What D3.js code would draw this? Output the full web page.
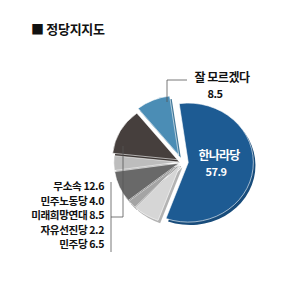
<!DOCTYPE html>
<html>
<head>
<meta charset="utf-8">
<script src="https://cdn.jsdelivr.net/npm/d3@7"></script>
<style>
  body { margin: 0; background: #fff; }
  text { font-family: "Noto Sans CJK KR", sans-serif; font-weight: bold; }
</style>
</head>
<body>
<div id="chartContainer"></div>
<script>
var width = 300;
var height = 285;

// parties in clockwise order starting at the top
var parties = ["한나라당", "민주당", "자유선진당", "미래희망연대", "민주노동당", "무소속", "잘 모르겠다"];
var shares = [57.9, 6.5, 2.2, 8.5, 4.0, 12.6, 8.5];
// legend on the left, read top to bottom
var legendParties = ["무소속", "민주노동당", "미래희망연대", "자유선진당", "민주당"];

var svg = d3.select('#chartContainer')
    .append('svg')
    .attr("width", width)
    .attr("height", height);

svg.append("rect").attr("width", width).attr("height", height).attr("fill", "#fff");

// title
svg.append("text")
    .attr("x", 31)
    .attr("y", 34)
    .attr("font-size", 13)
    .attr("letter-spacing", -0.3)
    .attr("fill", "#111")
    .text("■ 정당지지도");

var data = parties.map(function(p, i) { return {party: p, value: shares[i]}; });

var colors = {
  "한나라당": "#1d5b93",
  "민주당": "#d6d6d6",
  "자유선진당": "#a4a4a4",
  "미래희망연대": "#696969",
  "민주노동당": "#bdbdbd",
  "무소속": "#463f3d",
  "잘 모르겠다": "#4b8db5"
};

// explode distance per slice
var explode = {
  "한나라당": 6,
  "민주당": 3,
  "자유선진당": 3,
  "미래희망연대": 3,
  "민주노동당": 3,
  "무소속": 5,
  "잘 모르겠다": 8
};

var start = -8 * Math.PI / 180;
var pie = d3.pie().sort(null).value(function(d) { return d.value; })
    .startAngle(start).endAngle(start + 2 * Math.PI);
var arcs = pie(data);

var radius = 62;
var arc = d3.arc().innerRadius(0).outerRadius(radius);

var g = svg.append('g').attr("transform", "translate(182,162) scale(1.05,0.96)");

function offset(d) {
  var a = (d.startAngle + d.endAngle) / 2;
  var k = explode[d.data.party];
  return [Math.sin(a) * k, -Math.cos(a) * k];
}

// side faces, a darker copy pushed down a little
g.selectAll("path.side").data(arcs).enter().append("path")
    .attr("class", "side")
    .attr("d", arc)
    .attr("transform", function(d) { var o = offset(d); return "translate(" + (o[0] + 2) + "," + (o[1] + 3) + ")"; })
    .attr("fill", function(d) { return d3.color(colors[d.data.party]).darker(0.5); });

// top faces
g.selectAll("path.face").data(arcs).enter().append("path")
    .attr("class", "face")
    .attr("d", arc)
    .attr("transform", function(d) { var o = offset(d); return "translate(" + o[0] + "," + o[1] + ")"; })
    .attr("fill", function(d) { return colors[d.data.party]; })
    .attr("stroke", "#fff")
    .attr("stroke-width", 0.6);

// inside label for the biggest party
svg.append("text").attr("x", 219).attr("y", 160).attr("text-anchor", "middle")
    .attr("font-size", 12).attr("letter-spacing", -0.8).attr("fill", "#fff")
    .text(parties[0]);
svg.append("text").attr("x", 216).attr("y", 176).attr("text-anchor", "middle")
    .attr("font-size", 11).attr("letter-spacing", -0.5).attr("fill", "#fff")
    .text(shares[0].toFixed(1));

// 잘 모르겠다 label with leader line
svg.append("path")
    .attr("d", "M167,102V80H187")
    .attr("fill", "none").attr("stroke", "#555").attr("stroke-width", 0.8);
svg.append("text").attr("x", 222).attr("y", 82).attr("text-anchor", "middle")
    .attr("font-size", 12).attr("letter-spacing", -0.5).attr("fill", "#111")
    .text(parties[6]);
svg.append("text").attr("x", 215).attr("y", 98).attr("text-anchor", "middle")
    .attr("font-size", 11).attr("letter-spacing", -0.5).attr("fill", "#111")
    .text(shares[6].toFixed(1));

// left legend with bracket
legendParties.forEach(function(p, i) {
  var v = shares[parties.indexOf(p)];
  svg.append("text")
      .attr("x", 104)
      .attr("y", 190 + i * 14.5)
      .attr("text-anchor", "end")
      .attr("font-size", 10.6)
      .attr("letter-spacing", -0.4)
      .attr("fill", "#111")
      .text(p + " " + v.toFixed(1));
});
svg.append("path")
    .attr("d", "M111,182V252M111,217H123V146")
    .attr("fill", "none").attr("stroke", "#555").attr("stroke-width", 0.8);
</script>
</body>
</html>
